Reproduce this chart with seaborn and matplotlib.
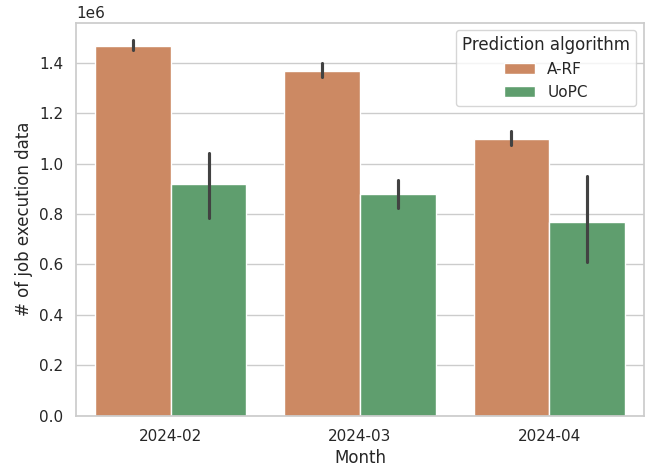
import numpy as np
import pandas as pd
import matplotlib
matplotlib.use("Agg")
import matplotlib.pyplot as plt
import seaborn as sns

# Valors llegits del gràfic: per cada mes i algorisme, (mínim, valor, màxim) de la barra d'error
mesos = ["2024-02", "2024-03", "2024-04"]
algorismes = ["A-RF", "UoPC"]

arf_valor = [1.469e6, 1.369e6, 1.098e6]
arf_baix = [1.453e6, 1.344e6, 1.074e6]
arf_alt = [1.490e6, 1.401e6, 1.131e6]

uopc_valor = [0.919e6, 0.878e6, 0.770e6]
uopc_baix = [0.784e6, 0.826e6, 0.608e6]
uopc_alt = [1.043e6, 0.936e6, 0.953e6]

files = []
for i, mes in enumerate(mesos):
    for v in (arf_baix[i], arf_valor[i], arf_alt[i]):
        files.append({"Month": mes, "Prediction algorithm": "A-RF", "n": v})
    for v in (uopc_baix[i], uopc_valor[i], uopc_alt[i]):
        files.append({"Month": mes, "Prediction algorithm": "UoPC", "n": v})
df = pd.DataFrame(files)

sns.set_theme(style="whitegrid")
deep = sns.color_palette("deep")

fig, ax = plt.subplots(figsize=(6.51, 4.69), dpi=100)
sns.barplot(
    data=df,
    x="Month",
    y="n",
    hue="Prediction algorithm",
    hue_order=algorismes,
    order=mesos,
    palette=[deep[1], deep[2]],
    estimator="median",
    errorbar=lambda x: (np.min(x), np.max(x)),
    ax=ax,
)

ax.set_xlabel("Month")
ax.set_ylabel("# of job execution data")
ax.set_ylim(0, 1.561e6)
sns.move_legend(ax, "upper right", title="Prediction algorithm")

plt.subplots_adjust(left=0.117, right=0.989, top=0.952, bottom=0.114)
plt.savefig("out.png", dpi=100)
